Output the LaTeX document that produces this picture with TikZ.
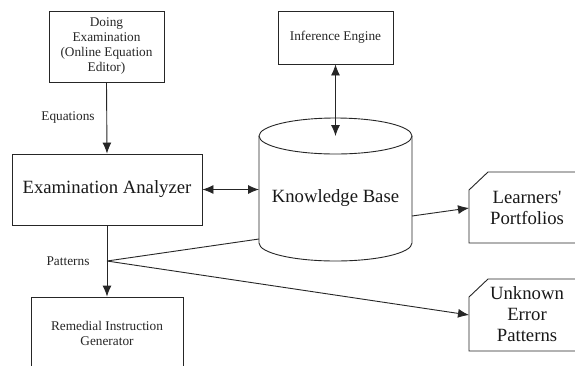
\documentclass[tikz,border=0pt]{standalone}
\usepackage{fontspec}
\setmainfont{Liberation Serif}
\usetikzlibrary{arrows.meta}
\begin{document}
\begin{tikzpicture}[x=1pt,y=-1pt,
  ln/.style={line width=0.9pt, draw=black!85},
  box/.style={draw=black!85, line width=0.9pt, inner sep=0pt, align=center},
  small/.style={font=\fontsize{13.3}{15}\selectfont, align=center, text=black!85},
  big/.style={font=\fontsize{18.7}{20.5}\selectfont, align=center, text=black!90},
  tip/.tip={Latex[length=11pt,width=9pt]},
  arr/.style={ln, -tip},
  darr/.style={ln, tip-tip}]
\clip (0,0) rectangle (575,365);
\fill[white] (0,0) rectangle (575,365);
% boxes
\node[box, small, minimum width=115pt, minimum height=71pt] (doe) at (106.5,46.5) {Doing\\Examination\\(Online Equation\\Editor)};
\node[box, big, minimum width=190pt, minimum height=71pt] (ea) at (107,189.5) {Examination Analyzer};
\node[box, small, minimum width=115pt, minimum height=53pt] (ie) at (335.5,37.5) {Inference Engine};
\node[box, small, minimum width=152pt, minimum height=73pt] (rig) at (107,333.5) {Remedial Instruction\\Generator};
% cylinder
\draw[ln] (259,136) -- (259,243) arc[start angle=180, end angle=0, x radius=76.5, y radius=18] -- (412,136);
\draw[ln] (335.5,136) ellipse [x radius=76.5, y radius=18];
\node[big] (kb) at (335.5,198) {Knowledge Base};
\coordinate (kbw) at (259,189.5);
\coordinate (kbtop) at (335.5,136);
\coordinate (kbr) at (412,216);
\coordinate (kbl) at (259,239);
% card shapes
\draw[ln] (580,172) -- (488,172) -- (469,190) -- (469,243) -- (580,243);
\node[big] (lp) at (527,208) {Learners\textquotesingle\\Portfolios};
\coordinate (lpw) at (469,208);
\draw[ln] (580,279) -- (488,279) -- (469,297) -- (469,351) -- (580,351);
\node[big, font=\fontsize{18.7}{21}\selectfont] (uep) at (527,314) {Unknown\\Error\\Patterns};
\coordinate (uepw) at (469,315);
% connectors
\draw[arr] (doe.south) -- (ea.north);
\node[small] (eqlab) at (68,118) {Equations};
\draw[darr] (ea.east) -- (kbw);
\draw[darr] (ie.south) -- (kbtop);
\draw[arr] (kbr) -- (lpw);
\coordinate (pat) at (107,261);
\node[small] (patlab) at (68,261) {Patterns};
\draw[ln] (ea.south) -- (pat);
\draw[arr] (pat) -- (rig.north);
\draw[ln] (pat) -- (kbl);
\draw[arr] (pat) -- (uepw);
\end{tikzpicture}
\end{document}
